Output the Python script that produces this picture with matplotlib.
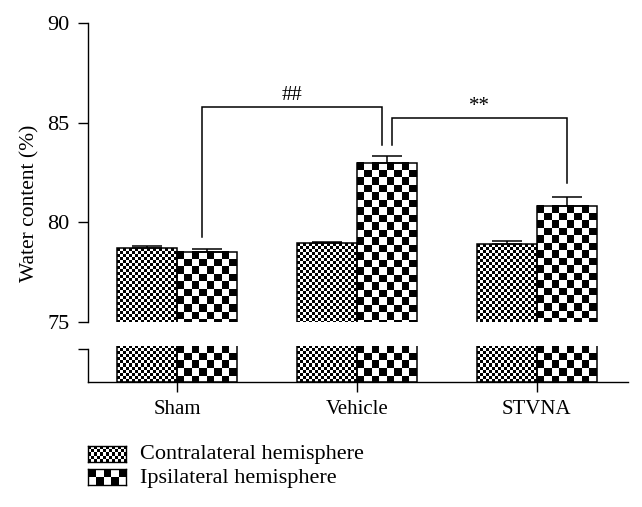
import numpy as np
import matplotlib
matplotlib.use("Agg")
import matplotlib.pyplot as plt

plt.rcParams['font.family'] = ['Liberation Serif', 'DejaVu Serif']

groups = ["Sham", "Vehicle", "STVNA"]
series_names = ["Contralateral hemisphere", "Ipsilateral hemisphere"]
contra = [78.70, 78.95, 78.90]
contra_err = [0.12, 0.08, 0.18]
ipsi = [78.53, 83.00, 80.84]
ipsi_err = [0.15, 0.33, 0.45]
y_ticks = [75, 80, 85, 90]
sig_labels = ["##", "**"]
sig_pairs = [(0, 1), (1, 2)]
sig_levels = [85.78, 85.22]
sig_leg_ends = [(79.25, 83.88), (83.88, 81.95)]
sig_x_offsets = [(-0.025, -0.025), (0.028, 0.0)]

W, H, DPI = 642, 507, 100
fig = plt.figure(figsize=(W / DPI, H / DPI), dpi=DPI)


def frac(x0, y0, x1, y1):
    return [x0 / W, 1 - y1 / H, (x1 - x0) / W, (y1 - y0) / H]


ax_top = fig.add_axes(frac(88, 23, 628, 322))
ax_bot = fig.add_axes(frac(88, 346, 628, 382))

xlim = (-0.494, 2.506)
bw = 1 / 3
x = np.arange(len(groups))
LW = 1.1


def checker_array(ny, nx):
    return (np.add.outer(np.arange(ny), np.arange(nx)) % 2).astype(float)


def checker_fill(ax, patch, cell_px):
    x0, w = patch.get_x(), patch.get_width()
    ylo, yhi = ax.get_ylim()
    ytop = min(patch.get_y() + patch.get_height(), yhi)
    (px0, py0), (px1, py1) = ax.transData.transform([(x0, ylo), (x0 + w, ytop)])
    nx = max(1, int(round((px1 - px0) / cell_px)))
    ny = int(np.ceil((py1 - py0) / cell_px)) + 1
    dy = (ytop - ylo) / (py1 - py0)
    ext_bot = ytop - ny * cell_px * dy
    ax.imshow(checker_array(ny, nx), cmap='gray', vmin=0, vmax=1,
              interpolation='nearest', aspect='auto', origin='upper',
              extent=(x0, x0 + w, ext_bot, ytop), zorder=2)


for ax, ylim in [(ax_top, (75, 90)), (ax_bot, (0, 1))]:
    ax.set_xlim(*xlim)
    ax.set_ylim(*ylim)
    bars_c = ax.bar(x - bw / 2, contra, bw, facecolor='none', edgecolor='black',
                    linewidth=LW, zorder=3)
    bars_i = ax.bar(x + bw / 2, ipsi, bw, facecolor='none', edgecolor='black',
                    linewidth=LW, zorder=3)
    for p in bars_c:
        checker_fill(ax, p, 3.0)
    for p in bars_i:
        checker_fill(ax, p, 7.5)
    ax.set_xlim(*xlim)
    ax.set_ylim(*ylim)
    for s in ['top', 'right']:
        ax.spines[s].set_visible(False)
    for s in ['left', 'bottom']:
        ax.spines[s].set_linewidth(1.0)
    ax.tick_params(direction='out', length=7.2, width=1.0, labelsize=16)

# error bars (upper only)
ax_top.errorbar(x - bw / 2, contra, yerr=[np.zeros(3), contra_err], fmt='none',
                ecolor='black', elinewidth=LW, capsize=10.5, capthick=LW, zorder=4)
ax_top.errorbar(x + bw / 2, ipsi, yerr=[np.zeros(3), ipsi_err], fmt='none',
                ecolor='black', elinewidth=LW, capsize=10.5, capthick=LW, zorder=4)

ax_top.spines['bottom'].set_visible(False)
ax_top.set_xticks([])
ax_top.set_yticks(y_ticks)
ax_top.set_yticklabels([str(t) for t in y_ticks])
ax_top.tick_params(axis='y', pad=6)

ax_bot.set_yticks([0.92])
ax_bot.set_yticklabels([''])
ax_bot.spines['left'].set_bounds(0, 0.92)
ax_bot.set_xticks(x)
ax_bot.set_xticklabels(groups, fontsize=15)
ax_bot.tick_params(axis='x', pad=6)

# significance brackets
for (g0, g1), lvl, (l0, l1), (o0, o1), lab in zip(sig_pairs, sig_levels, sig_leg_ends,
                                                  sig_x_offsets, sig_labels):
    xl = g0 + bw / 2 + o0
    xr = g1 + bw / 2 + o1
    ax_top.plot([xl, xl, xr, xr], [l0, lvl, lvl, l1], color='black', lw=LW,
                zorder=5, solid_joinstyle='miter')
    ax_top.text((xl + xr) / 2, lvl + 0.12, lab, ha='center', va='bottom', fontsize=15)

fig.text(30 / W, 1 - 203 / H, "Water content (%)", rotation=90, ha='center',
         va='center', fontsize=15.5)

# legend
for i, (name, cell) in enumerate(zip(series_names, [3.0, 7.4])):
    y0 = 446 + i * 23
    lax = fig.add_axes(frac(88, y0, 126, y0 + 16))
    nx = int(round(38 / cell))
    ny = int(round(16 / cell))
    lax.imshow(checker_array(max(ny, 2), nx), cmap='gray', vmin=0, vmax=1,
               interpolation='nearest', aspect='auto')
    lax.set_xticks([])
    lax.set_yticks([])
    for s in lax.spines.values():
        s.set_linewidth(1.0)
    fig.text(140 / W, 1 - (455 + i * 24) / H, name, ha='left', va='center', fontsize=16)

fig.savefig("out.png", dpi=DPI)
